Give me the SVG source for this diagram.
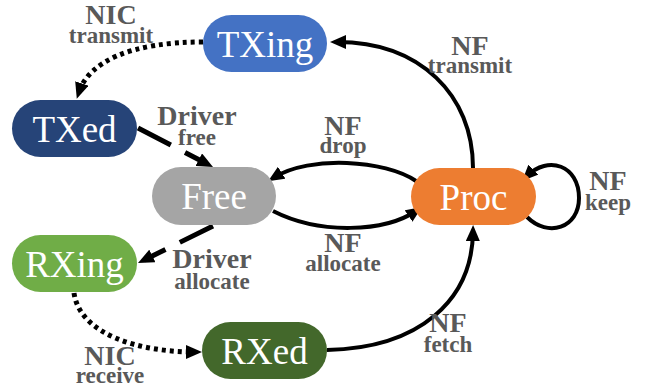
<svg xmlns="http://www.w3.org/2000/svg" width="646" height="389" viewBox="0 0 646 389">
<style>
.node text{font-family:"Liberation Serif","DejaVu Serif",serif;font-size:37px;fill:#fff;text-anchor:middle;dominant-baseline:central}
.lbl{font-family:"Liberation Serif","DejaVu Serif",serif;font-weight:bold;fill:#595959;text-anchor:middle}
.m{font-size:28px}
.s{font-size:23px}
.e{fill:none;stroke:#000;stroke-width:4}
.dot{stroke-width:5;stroke-dasharray:4 4}
.dash{stroke-width:5;stroke-dasharray:37 16}
</style>
<defs>
<marker id="ah" markerUnits="userSpaceOnUse" markerWidth="16" markerHeight="14" refX="9" refY="7" orient="auto">
<path d="M0,0 L16,7 L0,14 z" fill="#000"/>
</marker>
</defs>
<g id="connectors">
<path class="e dot" d="M203,42 C130,42 89,62 79,92" marker-end="url(#ah)"/>
<path class="e dash" d="M138,128 L206.8,163.8" marker-end="url(#ah)"/>
<path class="e" d="M473,168 C473,95 420,42 337,42" marker-end="url(#ah)"/>
<path class="e" d="M416,181 C385,160 310,155 274,177.5" marker-end="url(#ah)"/>
<path class="e" d="M273,211 C320,235 385,232 416,211" marker-end="url(#ah)"/>
<path class="e dash" d="M213,226 L144.3,259.9" marker-end="url(#ah)"/>
<path class="e dot" d="M74,293 C80,335 140,352 195,352" marker-end="url(#ah)"/>
<path class="e" d="M327,350 C420,348 472,300 473,232" marker-end="url(#ah)"/>
<path class="e" d="M527,217 C548,238 579,228 579,198 C579,165 548,155 527,176" marker-end="url(#ah)"/>
</g>
<g id="TXing" class="node"><rect x="203" y="15" width="124" height="57" rx="28.5" fill="#4472C4"/><text x="265" y="44">TXing</text></g>
<g id="TXed" class="node"><rect x="12" y="100" width="125" height="57" rx="28.5" fill="#264478"/><text x="74.5" y="129">TXed</text></g>
<g id="Free" class="node"><rect x="152" y="167" width="124" height="58" rx="29" fill="#A5A5A5"/><text x="214" y="196">Free</text></g>
<g id="Proc" class="node"><rect x="411" y="168" width="125" height="57" rx="28.5" fill="#ED7D31"/><text x="473.5" y="197">Proc</text></g>
<g id="RXing" class="node"><rect x="12" y="235" width="125" height="57" rx="28.5" fill="#70AD47"/><text x="74.5" y="264">RXing</text></g>
<g id="RXed" class="node"><rect x="202" y="322" width="125" height="57" rx="28.5" fill="#43682B"/><text x="264.5" y="351">RXed</text></g>
<g id="labels">
<text class="lbl"><tspan class="m" x="111" y="24">NIC</tspan><tspan class="s" x="111" y="43">transmit</tspan></text>
<text class="lbl"><tspan class="m" x="197" y="125">Driver</tspan><tspan class="s" x="197" y="145">free</tspan></text>
<text class="lbl"><tspan class="m" x="470" y="55">NF</tspan><tspan class="s" x="470" y="73">transmit</tspan></text>
<text class="lbl"><tspan class="m" x="343" y="135">NF</tspan><tspan class="s" x="343" y="153">drop</tspan></text>
<text class="lbl"><tspan class="m" x="608" y="190">NF</tspan><tspan class="s" x="608" y="210">keep</tspan></text>
<text class="lbl"><tspan class="m" x="343" y="252">NF</tspan><tspan class="s" x="343" y="271">allocate</tspan></text>
<text class="lbl"><tspan class="m" x="212" y="268">Driver</tspan><tspan class="s" x="212" y="289">allocate</tspan></text>
<text class="lbl"><tspan class="m" x="110" y="365">NIC</tspan><tspan class="s" x="110" y="383">receive</tspan></text>
<text class="lbl"><tspan class="m" x="448" y="332">NF</tspan><tspan class="s" x="448" y="352">fetch</tspan></text>
</g>
</svg>
